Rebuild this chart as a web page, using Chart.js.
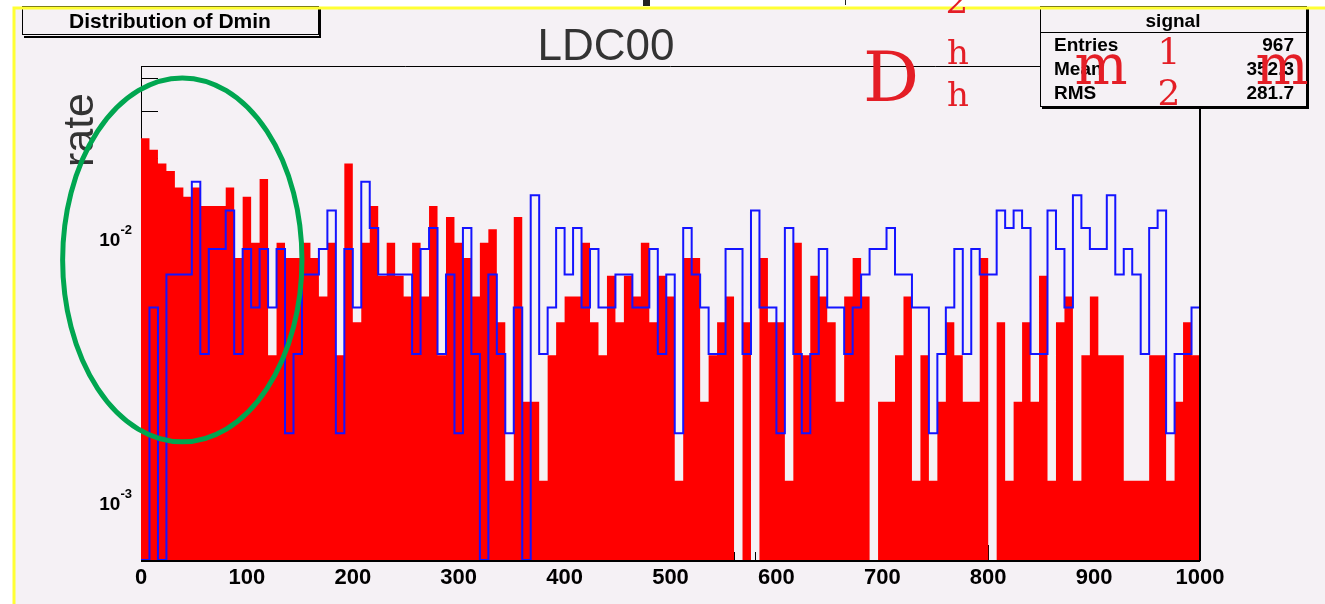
<!DOCTYPE html>
<html>
<head>
<meta charset="utf-8">
<script src="https://cdn.jsdelivr.net/npm/chart.js@4.4.1/dist/chart.umd.min.js"></script>
<style>
  html, body { margin: 0; padding: 0; background: #fff; }
  #wrap { width: 1325px; height: 604px; position: relative; }
</style>
</head>
<body>
<div id="wrap"><canvas id="dmin"></canvas></div>
<script>
// histogram binning: 125 bins of width 8 on [0, 1000]
const BIN_WIDTH = 8;
const X_MIN = 0, X_MAX = 1000;
const Y_MIN = 5.95e-4, Y_MAX = 0.0445;

// red filled histogram (rate per bin)
const redRate = [
  0.0237, 0.0214, 0.019, 0.0178, 0.0154, 0.0142, 0.0154, 0.0131, 0.0131, 0.0131, 0.0154, 0.00831, 0.0142,
  0.0095, 0.0166, 0.00356, 0.0095, 0.00831, 0.00831, 0.0095, 0.00831, 0.00594, 0.0095, 0.00356, 0.019,
  0.00475, 0.0095, 0.0131, 0.00712, 0.0095, 0.00712, 0.00594, 0.0095, 0.00594, 0.0131, 0.00356, 0.0119, 0.0095,
  0.00831, 0.00594, 0.0095, 0.0107, 0.00475, 0.00119, 0.0119, 0.00237, 0.00237, 0.00119, 0.00356, 0.00475,
  0.00594, 0.00594, 0.0095, 0.00475, 0.00356, 0.00712, 0.00475, 0.00712, 0.00594, 0.0095, 0.00475, 0.00712, 0.00594,
  0.00119, 0.00831, 0.00831, 0.00237, 0.00356, 0.00475, 0.00594, 0, 0.00475, 0, 0.00831, 0.00475,
  0.00475, 0.00119, 0.0095, 0.00356, 0.00712, 0.00594, 0.00475, 0.00237, 0.00594, 0.00831, 0.00594, 0, 0.00237,
  0.00237, 0.00356, 0.00594, 0.00119, 0.00356, 0.00119, 0.00237, 0.00475, 0.00356, 0.00237, 0.00237, 0.00831,
  0, 0.00475, 0.00119, 0.00237, 0.00475, 0.00237, 0.00712, 0.00119, 0.00475, 0.00594, 0.00119, 0.00356, 0.00594,
  0.00356, 0.00356, 0.00356, 0.00119, 0.00119, 0.00119, 0.00356, 0.00356, 0.00119, 0.00237, 0.00475, 0.00356
];

// blue outline histogram ("signal")
const blueRate = [
  0, 0.0054, 0, 0.0072, 0.0072, 0.0072, 0.0162, 0.0036, 0.009, 0.009, 0.0126, 0.0036, 0.009,
  0.0054, 0.009, 0.0054, 0.009, 0.0018, 0.0036, 0.0072, 0.0072, 0.009, 0.0126, 0.0018, 0.009,
  0.0054, 0.0162, 0.0108, 0.0072, 0.0072, 0.0072, 0.0072, 0.0036, 0.009, 0.0108, 0.0036, 0.0072, 0.0018,
  0.0108, 0.0036, 0, 0.0072, 0.0036, 0.0018, 0.0054, 0, 0.0144, 0.0036, 0.0054, 0.0108,
  0.0072, 0.0108, 0.0054, 0.009, 0.0054, 0.0054, 0.0072, 0.0072, 0.0054, 0.0054, 0.009, 0.0036, 0.0072,
  0.0018, 0.0108, 0.0072, 0.0054, 0.0036, 0.0036, 0.009, 0.009, 0.0036, 0.0126, 0.0054, 0.0054,
  0.0018, 0.0108, 0.0036, 0.0018, 0.0036, 0.009, 0.0054, 0.0054, 0.0036, 0.0054, 0.0072, 0.009, 0.009,
  0.0108, 0.0072, 0.0072, 0.0054, 0.0054, 0.0018, 0.0036, 0.0054, 0.009, 0.0036, 0.009, 0.0072,
  0.0072, 0.0126, 0.0108, 0.0126, 0.0108, 0.0036, 0.0036, 0.0126, 0.009, 0.0054, 0.0144, 0.0108, 0.009,
  0.009, 0.0144, 0.0072, 0.009, 0.0072, 0.0036, 0.0108, 0.0126, 0.0018, 0.0036, 0.0036, 0.0054
];

const xTickLabels = [0, 100, 200, 300, 400, 500, 600, 700, 800, 900, 1000];
const yTickLabels = [{ value: 0.01, exp: '-2' }, { value: 0.001, exp: '-3' }];
const histTitle = 'Distribution of Dmin';
const padTitle = 'LDC00';
const yTitle = 'rate';
const statsTitle = 'signal';
const statsRows = [['Entries', '967'], ['Mean', '352.3'], ['RMS', '281.7']];

// stray red serif glyphs overlapping the top of the pad
const redGlyphs = [
  { t: 'D', x: 891, y: 101, size: 70 },
  { t: '2', x: 957, y: 13, size: 36 },
  { t: 'h', x: 958, y: 64, size: 34 },
  { t: 'h', x: 958, y: 106, size: 34 },
  { t: 'm', x: 1101, y: 84, size: 56 },
  { t: '1', x: 1169, y: 64, size: 36 },
  { t: '2', x: 1169, y: 105, size: 36 },
  { t: 'm', x: 1282, y: 84, size: 56 }
];
const ellipseBox = { xFrom: -74, xTo: 152, yFrom: 0.00167, yTo: 0.0401 };

const PAD_BG = '#f5f1f5';
const SANS = '"Liberation Sans", Arial, Helvetica, sans-serif';

function toSteps(rates) {
  const pts = rates.map((v, i) => ({ x: X_MIN + i * BIN_WIDTH, y: v > 0 ? v : Y_MIN }));
  pts.push({ x: X_MAX, y: pts[pts.length - 1].y });
  return pts;
}

const rootDecor = {
  id: 'rootDecor',
  beforeDraw(chart) {
    const { ctx, width, height } = chart;
    ctx.save();
    ctx.fillStyle = '#ffffff';
    ctx.fillRect(0, 0, width, height);
    ctx.fillStyle = PAD_BG;
    ctx.fillRect(15, 9, width - 15, height - 9);
    ctx.restore();
  },
  beforeDatasetsDraw(chart) {
    const { ctx, chartArea: a, scales: { x, y } } = chart;
    ctx.save();
    ctx.strokeStyle = '#000';
    ctx.lineWidth = 1;
    ctx.beginPath();
    ctx.moveTo(a.left + 0.5, a.top);
    ctx.lineTo(a.left + 0.5, a.bottom);
    // log ticks on the left axis
    for (let e = -4; e <= -1; e++) {
      for (let m = 1; m <= 9; m++) {
        const v = m * Math.pow(10, e);
        if (v < Y_MIN || v > Y_MAX) continue;
        const py = Math.round(y.getPixelForValue(v)) + 0.5;
        ctx.moveTo(a.left, py);
        ctx.lineTo(a.left + (m === 1 ? 32 : 17), py);
      }
    }
    // ticks on the bottom axis
    for (let v = X_MIN; v <= X_MAX; v += 20) {
      const px = Math.round(x.getPixelForValue(v)) + 0.5;
      ctx.moveTo(px, a.bottom);
      ctx.lineTo(px, a.bottom - (v % 100 === 0 ? 15 : 8));
    }
    ctx.stroke();
    ctx.restore();
  },
  afterDatasetsDraw(chart) {
    const { ctx, chartArea: a, scales: { x, y }, width, height } = chart;
    ctx.save();

    // frame
    ctx.strokeStyle = '#000';
    ctx.lineWidth = 1;
    ctx.beginPath();
    ctx.moveTo(a.left, a.top + 0.5);
    ctx.lineTo(a.right, a.top + 0.5);
    ctx.stroke();
    ctx.lineWidth = 2;
    ctx.beginPath();
    ctx.moveTo(a.right, a.top);
    ctx.lineTo(a.right, a.bottom + 1);
    ctx.moveTo(a.left, a.bottom + 1);
    ctx.lineTo(a.right, a.bottom + 1);
    ctx.stroke();

    // x tick labels
    ctx.fillStyle = '#000';
    ctx.font = 'bold 22px ' + SANS;
    ctx.textAlign = 'center';
    ctx.textBaseline = 'alphabetic';
    xTickLabels.forEach(v => ctx.fillText(String(v), x.getPixelForValue(v), 584));

    // y tick labels with exponent
    yTickLabels.forEach(t => {
      const py = y.getPixelForValue(t.value);
      ctx.textAlign = 'right';
      ctx.font = 'bold 13px ' + SANS;
      const ew = ctx.measureText(t.exp).width;
      ctx.fillText(t.exp, 132, py - 3);
      ctx.font = 'bold 19px ' + SANS;
      ctx.fillText('10', 132 - ew, py + 9);
    });

    // axis title
    ctx.fillStyle = '#333';
    ctx.font = '43px ' + SANS;
    ctx.save();
    ctx.translate(93, 93);
    ctx.rotate(-Math.PI / 2);
    ctx.textAlign = 'right';
    ctx.fillText(yTitle, 0, 0);
    ctx.restore();

    // pad title
    ctx.font = '44px ' + SANS;
    ctx.textAlign = 'center';
    ctx.fillText(padTitle, 606, 60);

    // histogram title box
    ctx.fillStyle = PAD_BG;
    ctx.fillRect(22, 6, 296, 29);
    ctx.strokeStyle = '#000';
    ctx.lineWidth = 1;
    ctx.strokeRect(22.5, 6.5, 296, 28);
    ctx.lineWidth = 2;
    ctx.beginPath();
    ctx.moveTo(320, 8); ctx.lineTo(320, 37); ctx.lineTo(24, 37);
    ctx.stroke();
    ctx.fillStyle = '#000';
    ctx.font = 'bold 21px ' + SANS;
    ctx.textAlign = 'center';
    ctx.fillText(histTitle, 170, 28);

    // stats box
    const bx = 1040, by = 6, bw = 266, bh = 100;
    ctx.fillStyle = PAD_BG;
    ctx.fillRect(bx, by, bw, bh);
    ctx.lineWidth = 1;
    ctx.strokeRect(bx + 0.5, by + 0.5, bw, bh);
    ctx.lineWidth = 2;
    ctx.beginPath();
    ctx.moveTo(bx + bw + 2, by + 2); ctx.lineTo(bx + bw + 2, by + bh + 2); ctx.lineTo(bx + 2, by + bh + 2);
    ctx.stroke();
    ctx.lineWidth = 1;
    ctx.beginPath();
    ctx.moveTo(bx, 32.5); ctx.lineTo(bx + bw, 32.5);
    ctx.stroke();
    ctx.fillStyle = '#000';
    ctx.font = 'bold 19px ' + SANS;
    ctx.textAlign = 'center';
    ctx.fillText(statsTitle, bx + bw / 2, 27);
    statsRows.forEach((r, i) => {
      const ty = 51 + i * 24;
      ctx.textAlign = 'left';
      ctx.fillText(r[0], bx + 14, ty);
      ctx.textAlign = 'right';
      ctx.fillText(r[1], bx + bw - 12, ty);
    });

    // yellow pad border
    ctx.strokeStyle = '#ffff33';
    ctx.lineWidth = 3;
    ctx.beginPath();
    ctx.moveTo(14, height); ctx.lineTo(14, 8); ctx.lineTo(width, 8);
    ctx.stroke();
    ctx.fillStyle = '#222';
    ctx.fillRect(643, 0, 7, 6);
    ctx.fillRect(845, 0, 1, 5);

    // red overlay glyphs
    ctx.fillStyle = '#e41e26';
    ctx.textAlign = 'center';
    redGlyphs.forEach(g => {
      ctx.font = g.size + 'px "DejaVu Serif", serif';
      ctx.fillText(g.t, g.x, g.y);
    });

    // green ellipse annotation
    const ex0 = x.getPixelForValue(ellipseBox.xFrom), ex1 = x.getPixelForValue(ellipseBox.xTo);
    const ey0 = y.getPixelForValue(ellipseBox.yTo), ey1 = y.getPixelForValue(ellipseBox.yFrom);
    ctx.strokeStyle = '#00a650';
    ctx.lineWidth = 5;
    ctx.beginPath();
    ctx.ellipse((ex0 + ex1) / 2, (ey0 + ey1) / 2, (ex1 - ex0) / 2, (ey1 - ey0) / 2, 0, 0, Math.PI * 2);
    ctx.stroke();

    ctx.restore();
  }
};

new Chart(document.getElementById('dmin'), {
  type: 'line',
  data: {
    datasets: [
      {
        label: 'background',
        data: toSteps(redRate),
        stepped: 'before',
        fill: 'start',
        backgroundColor: '#ff0000',
        borderWidth: 0,
        pointRadius: 0,
        order: 2
      },
      {
        label: statsTitle,
        data: toSteps(blueRate),
        stepped: 'before',
        fill: false,
        borderColor: '#1414ff',
        borderWidth: 2,
        pointRadius: 0,
        order: 1
      }
    ]
  },
  options: {
    responsive: true,
    maintainAspectRatio: false,
    animation: false,
    layout: { padding: { left: 141, right: 125, top: 66, bottom: 44 } },
    plugins: { legend: { display: false }, tooltip: { enabled: false } },
    scales: {
      x: { type: 'linear', min: X_MIN, max: X_MAX, display: false },
      y: { type: 'logarithmic', min: Y_MIN, max: Y_MAX, display: false }
    }
  },
  plugins: [rootDecor]
});
</script>
</body>
</html>
